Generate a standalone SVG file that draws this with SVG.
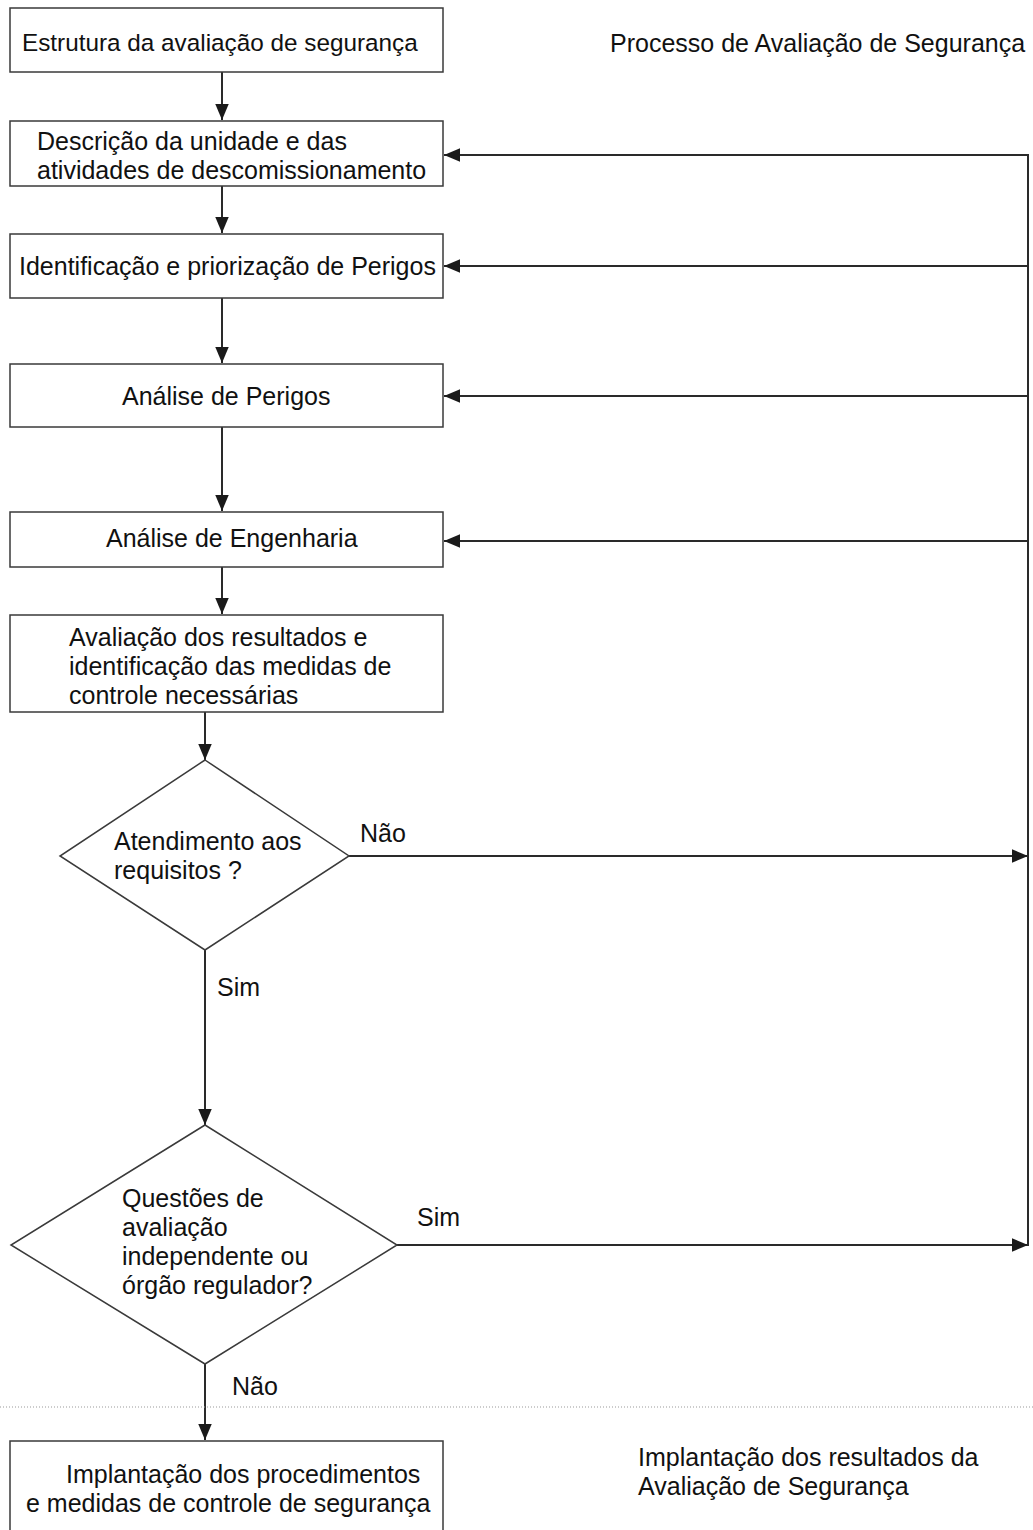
<svg xmlns="http://www.w3.org/2000/svg" width="1033" height="1530" viewBox="0 0 1033 1530">
<defs>
<marker id="ah" viewBox="0 0 10 10" refX="10" refY="5" markerWidth="16" markerHeight="16" markerUnits="userSpaceOnUse" orient="auto">
<path d="M0,0.8 L10,5 L0,9.2 z" fill="#1a1a1a"/>
</marker>
<style>
.box{fill:#fff;stroke:#3a3a3a;stroke-width:1.5}
.t{font-family:"Liberation Sans",Arial,sans-serif;font-size:25px;fill:#111}
.c{fill:none;stroke:#2a2a2a;stroke-width:2}
.ca{fill:none;stroke:#2a2a2a;stroke-width:2;marker-end:url(#ah)}
</style>
</defs>
<rect width="1033" height="1530" fill="#fff"/>

<g id="connectors">
<line class="ca" x1="222" y1="72" x2="222" y2="120"/>
<line class="ca" x1="222" y1="186" x2="222" y2="233"/>
<line class="ca" x1="222" y1="298" x2="222" y2="363"/>
<line class="ca" x1="222" y1="427" x2="222" y2="511"/>
<line class="ca" x1="222" y1="567" x2="222" y2="614"/>
<line class="ca" x1="205" y1="712" x2="205" y2="760"/>
<line class="ca" x1="205" y1="950" x2="205" y2="1125"/>
<line class="ca" x1="205" y1="1364" x2="205" y2="1440"/>
<line class="ca" x1="349" y1="856" x2="1028" y2="856"/>
<line class="ca" x1="397" y1="1245" x2="1028" y2="1245"/>
<line class="c" x1="1028" y1="154" x2="1028" y2="1246"/>
<line class="ca" x1="1028" y1="155" x2="444" y2="155"/>
<line class="ca" x1="1028" y1="266" x2="444" y2="266"/>
<line class="ca" x1="1028" y1="396" x2="444" y2="396"/>
<line class="ca" x1="1028" y1="541" x2="444" y2="541"/>
<text class="t" x="360" y="842">Não</text>
<text class="t" x="217" y="996">Sim</text>
<text class="t" x="417" y="1226">Sim</text>
<text class="t" x="232" y="1395">Não</text>
</g>

<line x1="0" y1="1407" x2="1033" y2="1407" stroke="#999" stroke-width="1" stroke-dasharray="1,2"/>

<g id="n1">
<rect class="box" x="10" y="8" width="433" height="64"/>
<text class="t" x="22" y="51" style="font-size:24.3px">Estrutura da avaliação de segurança</text>
</g>
<g id="n2">
<rect class="box" x="10" y="121" width="433" height="65"/>
<text class="t" x="37" y="150">Descrição da unidade e das</text>
<text class="t" x="37" y="179">atividades de descomissionamento</text>
</g>
<g id="n3">
<rect class="box" x="10" y="234" width="433" height="64"/>
<text class="t" x="19" y="275">Identificação e priorização de Perigos</text>
</g>
<g id="n4">
<rect class="box" x="10" y="364" width="433" height="63"/>
<text class="t" x="122" y="405">Análise de Perigos</text>
</g>
<g id="n5">
<rect class="box" x="10" y="512" width="433" height="55"/>
<text class="t" x="106" y="547">Análise de Engenharia</text>
</g>
<g id="n6">
<rect class="box" x="10" y="615" width="433" height="97"/>
<text class="t" x="69" y="646">Avaliação dos resultados e</text>
<text class="t" x="69" y="675">identificação das medidas de</text>
<text class="t" x="69" y="704">controle necessárias</text>
</g>
<g id="d1">
<polygon class="box" points="205,760 349,856 205,950 60,856"/>
<text class="t" x="114" y="850">Atendimento aos</text>
<text class="t" x="114" y="879">requisitos ?</text>
</g>
<g id="d2">
<polygon class="box" points="205,1125 397,1245 205,1364 11,1245"/>
<text class="t" x="122" y="1207">Questões de</text>
<text class="t" x="122" y="1236">avaliação</text>
<text class="t" x="122" y="1265">independente ou</text>
<text class="t" x="122" y="1294">órgão regulador?</text>
</g>
<g id="n7">
<rect class="box" x="10" y="1441" width="433" height="100"/>
<text class="t" x="66" y="1483">Implantação dos procedimentos</text>
<text class="t" x="26" y="1512">e medidas de controle de segurança</text>
</g>
<g id="labels">
<text class="t" x="610" y="52">Processo de Avaliação de Segurança</text>
<text class="t" x="638" y="1466">Implantação dos resultados da</text>
<text class="t" x="638" y="1495">Avaliação de Segurança</text>
</g>
</svg>
